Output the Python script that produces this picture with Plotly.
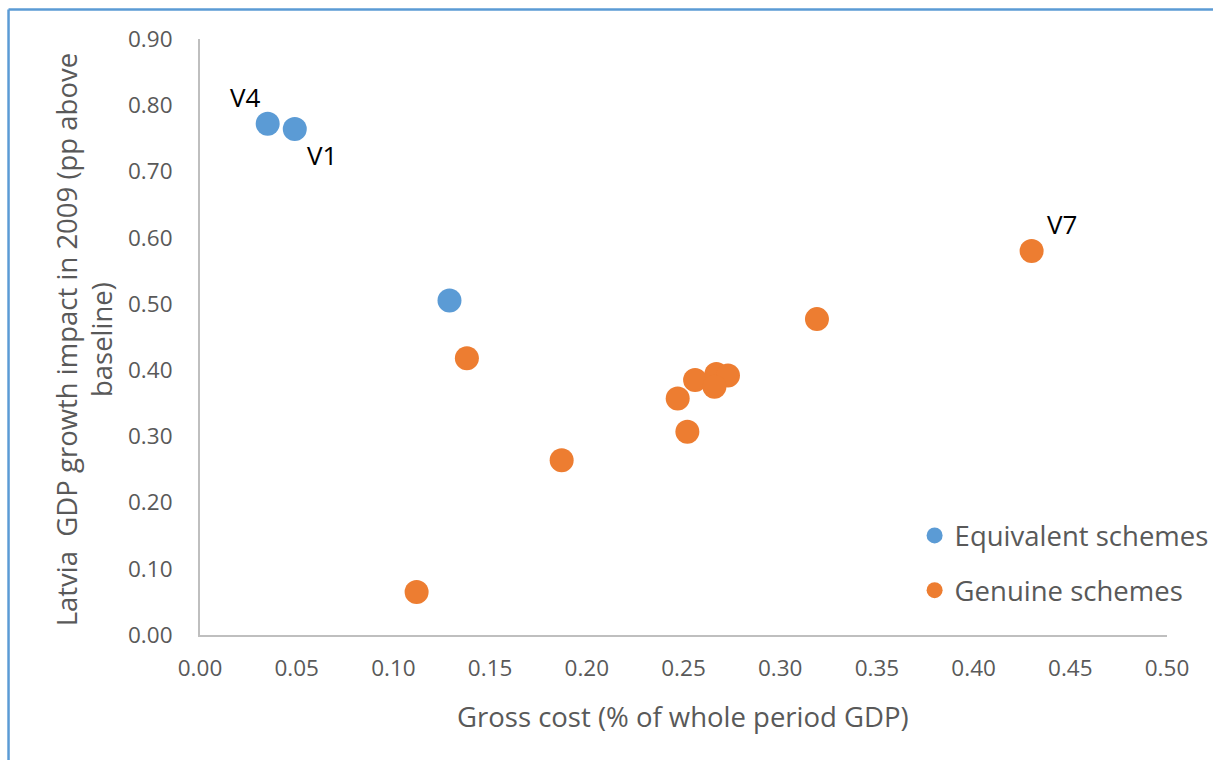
import plotly.graph_objects as go

# Scheme results: gross cost vs 2009 GDP growth impact
equiv_cost = [0.035, 0.049, 0.129]
equiv_impact = [0.772, 0.764, 0.505]
equiv_names = ["V4", "V1", ""]

genuine_cost = [0.112, 0.138, 0.187, 0.247, 0.252, 0.256, 0.267, 0.273, 0.266, 0.319, 0.430]
genuine_impact = [0.065, 0.418, 0.264, 0.357, 0.307, 0.385, 0.394, 0.392, 0.375, 0.477, 0.580]
genuine_names = ["", "", "", "", "", "", "", "", "", "", "V7"]

x_ticks = [0.00, 0.05, 0.10, 0.15, 0.20, 0.25, 0.30, 0.35, 0.40, 0.45, 0.50]
y_ticks = [0.00, 0.10, 0.20, 0.30, 0.40, 0.50, 0.60, 0.70, 0.80, 0.90]

FONT = "Open Sans"
GREY = "#595959"
BLUE = "#5b9bd5"
ORANGE = "#ed7d31"

fig = go.Figure()
fig.add_trace(go.Scatter(
    x=equiv_cost, y=equiv_impact, mode="markers", name="Equivalent schemes",
    marker=dict(color=BLUE, size=24, line=dict(width=0)), legendgroup="a",
))
fig.add_trace(go.Scatter(
    x=genuine_cost, y=genuine_impact, mode="markers", name="Genuine schemes",
    marker=dict(color=ORANGE, size=24, line=dict(width=0)), legendgroup="b",
))

# point labels, offset from their markers
offsets = {"V4": (-22, 27), "V1": (27, -26), "V7": (30, 27)}
for xs, ys, names in [(equiv_cost, equiv_impact, equiv_names),
                      (genuine_cost, genuine_impact, genuine_names)]:
    for x, y, n in zip(xs, ys, names):
        if n:
            dx, dy = offsets[n]
            fig.add_annotation(x=x, y=y, text=n, showarrow=False,
                               xshift=dx, yshift=dy,
                               font=dict(family=FONT, size=26, color="#000000"))

# axis titles
fig.add_annotation(xref="paper", yref="paper", x=0.4995, y=-0.136,
                   text="Gross cost (% of whole period GDP)", showarrow=False,
                   xanchor="center", yanchor="middle",
                   font=dict(family=FONT, size=27.5, color=GREY))
fig.add_annotation(xref="paper", yref="paper", x=-0.12, y=0.496,
                   text="Latvia  GDP growth impact in 2009 (pp above<br>baseline)",
                   showarrow=False, textangle=-90,
                   xanchor="center", yanchor="middle",
                   font=dict(family=FONT, size=27.5, color=GREY))

# blue frame (top and left edges)
fig.add_shape(type="line", xref="paper", yref="paper",
              x0=-0.198, x1=1.1, y0=1.0495, y1=1.0495,
              line=dict(color=BLUE, width=2.5))
fig.add_shape(type="line", xref="paper", yref="paper",
              x0=-0.198, x1=-0.198, y0=-0.3, y1=1.0495,
              line=dict(color=BLUE, width=2.5))

fig.update_layout(
    width=1213, height=760,
    margin=dict(l=200, r=46, t=39, b=125, autoexpand=False),
    paper_bgcolor="white", plot_bgcolor="white",
    font=dict(family=FONT, color=GREY),
    showlegend=True,
    legend=dict(x=0.739, y=0.208, xanchor="left", yanchor="top",
                font=dict(family=FONT, size=27.5, color=GREY),
                traceorder="grouped", tracegroupgap=16,
                bgcolor="rgba(0,0,0,0)", itemwidth=30),
    xaxis=dict(range=[0, 0.5], tickvals=x_ticks, tickformat=".2f",
               showgrid=False, zeroline=False, showline=True,
               linecolor="#bfbfbf", linewidth=2, ticks="", ticklen=0,
               ticklabelstandoff=12, automargin=False,
               tickfont=dict(family=FONT, size=22.5, color=GREY)),
    yaxis=dict(range=[0, 0.9], tickvals=y_ticks, tickformat=".2f",
               showgrid=False, zeroline=False, showline=True,
               linecolor="#bfbfbf", linewidth=2, ticks="", ticklen=0,
               ticklabelstandoff=21, automargin=False,
               tickfont=dict(family=FONT, size=22.5, color=GREY)),
)

fig.write_html("out.html")
